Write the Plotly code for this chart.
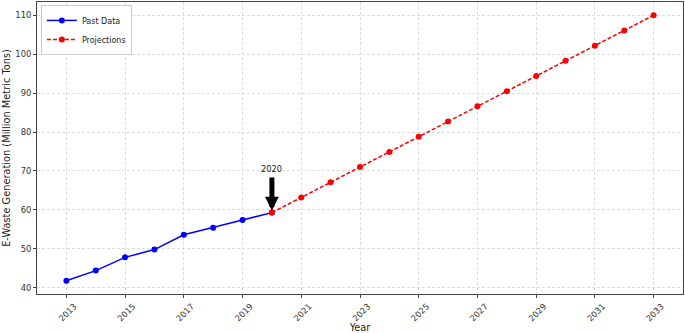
import plotly.graph_objects as go

past_years = [2013, 2014, 2015, 2016, 2017, 2018, 2019, 2020]
past_values = [41.8, 44.4, 47.8, 49.8, 53.6, 55.4, 57.4, 59.3]

proj_years = [2020, 2021, 2022, 2023, 2024, 2025, 2026, 2027, 2028, 2029, 2030, 2031, 2032, 2033]
proj_values = [59.3, 63.2, 67.1, 71.0, 74.9, 78.8, 82.7, 86.6, 90.5, 94.4, 98.3, 102.2, 106.1, 110.0]

x_ticks = [2013, 2015, 2017, 2019, 2021, 2023, 2025, 2027, 2029, 2031, 2033]
y_ticks = [40, 50, 60, 70, 80, 90, 100, 110]

highlight_year = 2020
highlight_value = 59.3
label_value = 70

FONT = "DejaVu Sans"

fig = go.Figure()
fig.add_trace(go.Scatter(
    x=past_years, y=past_values, name="Past Data", mode="lines+markers",
    line=dict(color="#0000ff", width=1.5),
    marker=dict(color="#0000ff", size=6),
))
fig.add_trace(go.Scatter(
    x=proj_years, y=proj_values, name="Projections", mode="lines+markers",
    line=dict(color="#ff0000", width=1.5, dash="4px,2px"),
    marker=dict(color="#ff0000", size=6),
))

fig.add_annotation(
    x=highlight_year, y=highlight_value, ax=highlight_year, ay=label_value - 1.3,
    xref="x", yref="y", axref="x", ayref="y",
    text="", showarrow=True, arrowhead=2, arrowsize=0.55, arrowwidth=5,
    arrowcolor="black", standoff=2,
)
fig.add_annotation(
    x=highlight_year, y=label_value, xref="x", yref="y",
    text="2020", showarrow=False, yanchor="bottom", yshift=-5,
    font=dict(family=FONT, size=8.2, color="#222"),
)

axis_common = dict(
    showline=True, linecolor="#444", linewidth=1, mirror=True,
    showgrid=True, gridcolor="#dedede", gridwidth=1, griddash="3px,2px",
    ticks="outside", ticklen=3, tickcolor="#444",
    tickfont=dict(family=FONT, size=8.4, color="#333"),
    zeroline=False, automargin=False,
)

fig.update_xaxes(
    range=[2012, 2034], tickvals=x_ticks, tickangle=-45,
    ticklabelshift=8, ticklabelstandoff=0,
    title=dict(text="Year", font=dict(family=FONT, size=9.8, color="#222"), standoff=1),
    **axis_common,
)
fig.update_yaxes(
    range=[38.39, 113.41], tickvals=y_ticks,
    title=dict(text="E-Waste Generation (Million Metric Tons)", font=dict(family=FONT, size=9.8, color="#222"), standoff=2),
    **axis_common,
)

fig.update_layout(
    width=685, height=333,
    margin=dict(l=37, r=2, t=2, b=39),
    plot_bgcolor="white", paper_bgcolor="white",
    font=dict(family=FONT),
    legend=dict(
        x=0.006, y=0.99, xanchor="left", yanchor="top",
        bgcolor="white", bordercolor="#cccccc", borderwidth=1,
        font=dict(family=FONT, size=8, color="#222"),
        itemwidth=30, tracegroupgap=0,
    ),
    showlegend=True,
)

fig.write_html("out.html", config={"displayModeBar": False},
               post_script="document.body.style.margin='0';")
